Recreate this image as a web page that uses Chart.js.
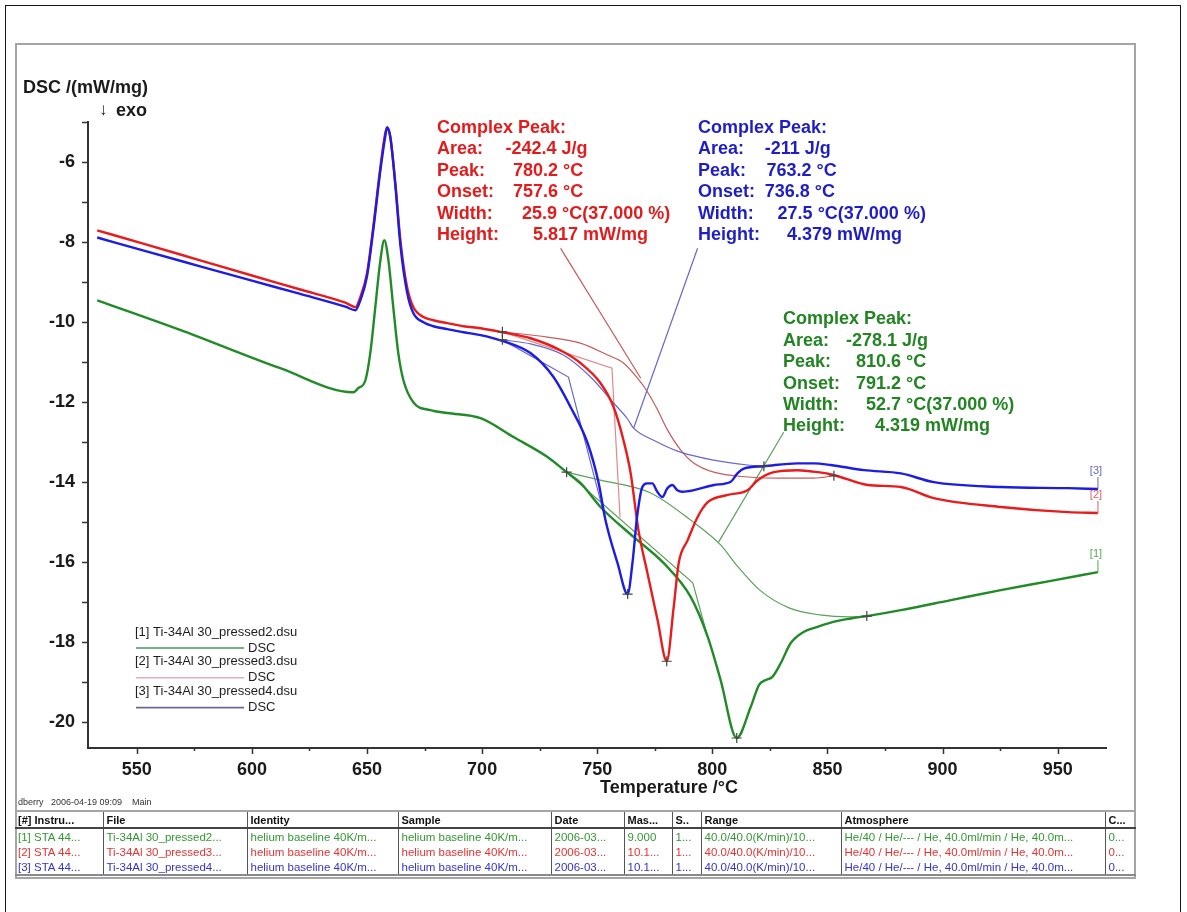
<!DOCTYPE html>
<html>
<head>
<meta charset="utf-8">
<script src="https://cdn.jsdelivr.net/npm/chart.js@4.4.1/dist/chart.umd.min.js"></script>
<style>
  html, body { margin: 0; padding: 0; background: #fff; }
  #wrap { position: relative; width: 1187px; height: 912px; overflow: hidden; background: #fff; }
  #outer { position: absolute; left: 5px; top: 5px; width: 1176px; height: 1000px; border: 1.5px solid #151515; box-sizing: border-box; }
  #inner { position: absolute; left: 15px; top: 43px; width: 1121px; height: 836px; border: 2px solid #a5a5a5; box-sizing: border-box; }
  #plot { position: absolute; left: 0; top: 0; }
  #stamp { position: absolute; left: 18px; top: 797px; font: 9px "Liberation Sans", Arial, sans-serif; color: #333; white-space: pre; }
  #meta { position: absolute; left: 15px; top: 810px; width: 1121px; border-collapse: collapse; table-layout: fixed;
          font-family: "Liberation Sans", Arial, sans-serif; border-top: 2px solid #a5a5a5; border-bottom: 2px solid #8a8a8a; }
  #meta th { font-size: 11px; font-weight: bold; text-align: left; height: 15px; padding: 0 3px; color: #111;
             border-left: 1.5px solid #555; border-bottom: 2.5px solid #444; white-space: nowrap; overflow: hidden; }
  #meta td { font-size: 11.5px; height: 15px; padding: 0 3px; border-left: 1.5px solid #555; white-space: nowrap; overflow: hidden; }
  #meta th:first-child, #meta td:first-child { border-left: none; }
</style>
</head>
<body>
<div id="wrap">
  <div id="outer"></div>
  <div id="inner"></div>
  <canvas id="plot" width="1187" height="912"></canvas>
  <div id="stamp">dberry   2006-04-19 09:09    Main</div>
  <table id="meta"></table>
</div>
<script>
// ---- DSC traces (temperature in °C, DSC in mW/mg) ----
const tempRed = [532.8, 555, 577.5, 600, 621, 640.6, 645, 647.1, 650, 652.7, 655.8, 658, 658.7, 660.1, 662.3, 664.5, 667.4, 670.1, 674.5, 678.8, 684.9, 691.9, 699.3, 708.8, 721, 734, 742.7, 751.4, 757.1, 761.4, 764.5, 767.9, 771.8, 776.2, 780.2, 783.2, 785.4, 789.3, 793.6, 798, 806.7, 815.3, 819.7, 826.7, 837.1, 845.8, 852.7, 867.5, 881.9, 896.2, 925.3, 954.5, 967.5];
const dscRed = [-7.71, -8.08, -8.46, -8.84, -9.19, -9.52, -9.63, -9.38, -8.78, -7.63, -6.13, -5.26, -5.17, -5.38, -6.53, -7.96, -9.13, -9.63, -9.88, -9.96, -10.03, -10.11, -10.16, -10.26, -10.41, -10.71, -11.03, -11.53, -12.13, -12.96, -13.78, -15.21, -16.28, -17.46, -18.49, -17.14, -16.03, -15.46, -14.88, -14.51, -14.33, -14.21, -13.96, -13.76, -13.71, -13.76, -13.83, -14.08, -14.13, -14.41, -14.63, -14.76, -14.78];

const tempBlue = [532.8, 555, 577.5, 600, 621, 640.6, 645, 647.1, 650, 652.7, 655.8, 658, 658.7, 660.1, 662.3, 664.5, 667.4, 670.1, 674.5, 678.8, 684.9, 691.9, 699.3, 708, 721, 731, 738.4, 745.8, 750.5, 753.6, 758.8, 763.2, 765.3, 767.3, 769.6, 771.7, 773.9, 776.1, 778.3, 780.4, 782.6, 784.8, 787, 792, 800.7, 808, 810.9, 813.7, 822.4, 837, 844.2, 851.4, 865.9, 881.9, 896.2, 925.3, 954.5, 967.5];
const dscBlue = [-7.89, -8.25, -8.61, -8.97, -9.30, -9.62, -9.71, -9.46, -8.86, -7.71, -6.21, -5.33, -5.13, -5.36, -6.58, -8.08, -9.26, -9.78, -10.01, -10.11, -10.18, -10.26, -10.33, -10.46, -10.78, -11.38, -12.13, -13.03, -14.0, -14.96, -16.03, -16.81, -16.03, -14.88, -14.13, -14.04, -14.04, -14.25, -14.38, -14.17, -14.08, -14.21, -14.25, -14.21, -14.08, -14.0, -13.79, -13.67, -13.61, -13.54, -13.54, -13.58, -13.71, -13.79, -14.01, -14.13, -14.16, -14.18];

const tempGreen = [532.8, 568.8, 612.3, 644.1, 646.2, 649.3, 651.4, 653.6, 655.8, 657.5, 659.3, 661.4, 663.6, 665.8, 670.1, 677.5, 684.9, 699.3, 713.6, 728.4, 736.7, 742.7, 751.4, 765.8, 778.8, 790.6, 798, 803.6, 810.6, 816.7, 820.3, 823.2, 826.1, 829.7, 834, 839.8, 845.7, 852.9, 860.1, 867.1, 881.9, 903.6, 925.3, 947.1, 967.5];
const dscGreen = [-9.46, -10.2, -11.16, -11.76, -11.66, -11.46, -10.79, -9.63, -8.46, -7.96, -8.46, -9.63, -10.79, -11.46, -12.01, -12.21, -12.28, -12.41, -12.88, -13.38, -13.76, -14.03, -14.63, -15.38, -16.03, -16.88, -17.88, -18.96, -20.41, -19.63, -19.08, -18.96, -18.88, -18.54, -18.04, -17.75, -17.63, -17.5, -17.42, -17.36, -17.21, -16.96, -16.71, -16.48, -16.26];

// ---- peak evaluation constructions ----
const blueBaseT = [708.8, 721, 735.3, 747.1, 757.1, 763.2, 765.8, 774.5, 786.2, 800.6, 815.4, 822.4];
const blueBaseV = [-10.45, -10.55, -10.83, -11.38, -12.03, -12.43, -12.66, -12.96, -13.26, -13.46, -13.58, -13.61];
const blueTanT = [708.8, 737.5, 753.6];
const blueTanV = [-10.45, -11.38, -14.96];

const redBaseT = [708.8, 728.4, 742.7, 754.5, 761.4, 767.5, 771.9, 776.2, 780.2, 786.2, 791.9, 800.6, 815.4, 829.7, 844.1, 852.8];
const redBaseV = [-10.25, -10.38, -10.53, -10.83, -11.03, -11.41, -11.76, -12.2, -12.67, -13.2, -13.53, -13.76, -13.88, -13.91, -13.91, -13.85];
const redTanT = [708.8, 756.4, 759.9];
const redTanV = [-10.25, -11.16, -14.89];

const greenBaseT = [736.7, 751.4, 773.2, 790.6, 803.6, 810.6, 820.6, 833.6, 846.7, 859.7, 867.1];
const greenBaseV = [-13.76, -13.96, -14.28, -14.96, -15.58, -16.09, -16.71, -17.16, -17.33, -17.38, -17.36];
const greenTanT = [736.7, 791.5, 798];
const greenTanV = [-13.76, -16.53, -17.88];

// leader lines from the result boxes to the baselines
const redLeadT = [734.1, 768.9];   const redLeadV = [-8.16, -11.41];
const blueLeadT = [793.6, 765.8];  const blueLeadV = [-8.16, -12.66];
const greenLeadT = [831, 802.7];   const greenLeadV = [-12.76, -15.51];

// limit / peak markers
const markT = [708.8, 708.8, 822.4, 852.8, 736.7, 867.1, 763.2, 780.2, 810.6];
const markV = [-10.25, -10.45, -13.61, -13.85, -13.76, -17.36, -16.81, -18.49, -20.41];

// ---- texts ----
const resultRows = ['Area:', 'Peak:', 'Onset:', 'Width:', 'Height:'];
const redResult = ['-242.4 J/g', '780.2 °C', '757.6 °C', '25.9 °C(37.000 %)', '5.817 mW/mg'];
const blueResult = ['-211 J/g', '763.2 °C', '736.8 °C', '27.5 °C(37.000 %)', '4.379 mW/mg'];
const greenResult = ['-278.1 J/g', '810.6 °C', '791.2 °C', '52.7 °C(37.000 %)', '4.319 mW/mg'];
const legendFiles = ['[1] Ti-34Al 30_pressed2.dsu', '[2] Ti-34Al 30_pressed3.dsu', '[3] Ti-34Al 30_pressed4.dsu'];

const tableHeaders = ['[#] Instru...', 'File', 'Identity', 'Sample', 'Date', 'Mas...', 'S..', 'Range', 'Atmosphere', 'C...'];
const tableRows = [
  ['[1] STA 44...', 'Ti-34Al 30_pressed2...', 'helium baseline 40K/m...', 'helium baseline 40K/m...', '2006-03...', '9.000', '1...', '40.0/40.0(K/min)/10...', 'He/40 / He/--- / He, 40.0ml/min / He, 40.0m...', '0...'],
  ['[2] STA 44...', 'Ti-34Al 30_pressed3...', 'helium baseline 40K/m...', 'helium baseline 40K/m...', '2006-03...', '10.1...', '1...', '40.0/40.0(K/min)/10...', 'He/40 / He/--- / He, 40.0ml/min / He, 40.0m...', '0...'],
  ['[3] STA 44...', 'Ti-34Al 30_pressed4...', 'helium baseline 40K/m...', 'helium baseline 40K/m...', '2006-03...', '10.1...', '1...', '40.0/40.0(K/min)/10...', 'He/40 / He/--- / He, 40.0ml/min / He, 40.0m...', '0...']
];

// ---- styling ----
const C = {
  red: 'rgb(232,28,28)', blue: 'rgb(28,28,226)', green: 'rgb(34,138,40)',
  redThin: 'rgb(196,92,92)', redTan: 'rgb(222,140,140)', blueThin: 'rgb(104,104,204)', greenThin: 'rgb(92,160,92)',
  redText: 'rgb(226,28,28)', blueText: 'rgb(30,30,196)', greenText: 'rgb(34,132,34)'
};
const FONT = '"Liberation Sans", Arial, "DejaVu Sans", sans-serif';
const colWidths = [88, 144, 151, 153, 73, 48, 29, 140, 264, 31];
const rowColors = ['rgb(52,150,52)', 'rgb(226,52,52)', 'rgb(52,52,200)'];

// build the file table
(function buildTable() {
  const t = document.getElementById('meta');
  let html = '<colgroup>' + colWidths.map(w => '<col style="width:' + w + 'px">').join('') + '</colgroup>';
  html += '<thead><tr>' + tableHeaders.map(h => '<th>' + h + '</th>').join('') + '</tr></thead><tbody>';
  tableRows.forEach((r, i) => {
    html += '<tr style="color:' + rowColors[i] + '">' + r.map(c => '<td>' + c + '</td>').join('') + '</tr>';
  });
  t.innerHTML = html + '</tbody>';
})();

const pts = (xs, ys) => xs.map((x, i) => ({ x: x, y: ys[i] }));
const thick = (label, xs, ys, color) => ({ label, data: pts(xs, ys), borderColor: color, borderWidth: 2.4, pointRadius: 0, cubicInterpolationMode: 'monotone', fill: false });
const thin = (label, xs, ys, color, smooth) => ({ label, data: pts(xs, ys), borderColor: color, borderWidth: 1.2, pointRadius: 0, tension: 0, cubicInterpolationMode: smooth ? 'monotone' : 'default', fill: false });

const decor = {
  id: 'dscDecor',
  afterDraw(chart) {
    const ctx = chart.ctx, xs = chart.scales.x, ys = chart.scales.y, a = chart.chartArea;
    ctx.save();
    // tick marks: long at labelled values, short in between
    ctx.strokeStyle = '#333'; ctx.lineWidth = 1.5;
    xs.ticks.forEach(t => {
      const px = Math.round(xs.getPixelForValue(t.value)) + 0.5;
      const len = t.value % 50 === 0 ? 6 : 3;
      ctx.beginPath(); ctx.moveTo(px, a.bottom); ctx.lineTo(px, a.bottom + len); ctx.stroke();
    });
    ys.ticks.forEach(t => {
      const py = Math.round(ys.getPixelForValue(t.value)) + 0.5;
      ctx.beginPath(); ctx.moveTo(a.left - 6, py); ctx.lineTo(a.left, py); ctx.stroke();
    });

    // axis titles
    ctx.fillStyle = '#1a1a1a'; ctx.textBaseline = 'middle'; ctx.textAlign = 'left';
    ctx.font = 'bold 18px ' + FONT;
    ctx.fillText('DSC /(mW/mg)', 23, 88);
    ctx.fillText('Temperature /°C', 600, 788);
    ctx.font = '17px ' + FONT;
    ctx.fillText('↓', 99, 110);
    ctx.font = 'bold 18px ' + FONT;
    ctx.fillText('exo', 116, 111);

    // result boxes
    const boxes = [
      { vals: redResult, color: C.redText, x: 437, y: 128, off: [68.5, 76, 76, 85, 96] },
      { vals: blueResult, color: C.blueText, x: 698, y: 128, off: [66.7, 68.5, 66.7, 79.6, 89] },
      { vals: greenResult, color: C.greenText, x: 783, y: 319.5, off: [63, 73, 73, 83, 92] }
    ];
    ctx.font = 'bold 18px ' + FONT;
    boxes.forEach(b => {
      ctx.fillStyle = b.color;
      ctx.fillText('Complex Peak:', b.x, b.y);
      resultRows.forEach((r, i) => {
        const yy = b.y + 21.4 * (i + 1);
        ctx.fillText(r, b.x, yy);
        ctx.fillText(b.vals[i], b.x + b.off[i], yy);
      });
    });

    // legend block
    const legColors = ['rgb(70,150,95)', 'rgb(226,172,196)', 'rgb(112,102,150)'];
    ctx.font = '13px ' + FONT;
    legendFiles.forEach((f, i) => {
      const y0 = 632 + 29.8 * i;
      ctx.fillStyle = '#1e1e1e';
      ctx.fillText(f, 135, y0);
      ctx.strokeStyle = legColors[i]; ctx.lineWidth = 1.6;
      ctx.beginPath(); ctx.moveTo(136, y0 + 16); ctx.lineTo(244, y0 + 16); ctx.stroke();
      ctx.fillStyle = '#1e1e1e';
      ctx.fillText('DSC', 248, y0 + 16);
    });

    // curve end tags
    const ends = [
      { t: tempGreen, v: dscGreen, tag: '[1]', color: 'rgb(90,165,90)', lift: 18 },
      { t: tempRed, v: dscRed, tag: '[2]', color: 'rgb(222,96,96)', lift: 18 },
      { t: tempBlue, v: dscBlue, tag: '[3]', color: 'rgb(100,100,190)', lift: 18 }
    ];
    ctx.font = '11px ' + FONT; ctx.textAlign = 'center';
    ends.forEach(e => {
      const px = xs.getPixelForValue(e.t[e.t.length - 1]);
      const py = ys.getPixelForValue(e.v[e.v.length - 1]);
      ctx.strokeStyle = e.color; ctx.lineWidth = 1;
      ctx.beginPath(); ctx.moveTo(px, py); ctx.lineTo(px, py - e.lift + 6); ctx.stroke();
      ctx.fillStyle = e.color;
      ctx.fillText(e.tag, px - 2, py - e.lift);
    });
    ctx.restore();
  }
};

new Chart(document.getElementById('plot'), {
  type: 'line',
  data: {
    datasets: [
      { type: 'scatter', label: 'limits', data: pts(markT, markV), pointStyle: 'cross', pointRadius: 5, pointBorderWidth: 1.2, borderColor: '#444', backgroundColor: '#444', showLine: false },
      thick('[3] Ti-34Al 30_pressed4', tempBlue, dscBlue, C.blue),
      thick('[2] Ti-34Al 30_pressed3', tempRed, dscRed, C.red),
      thick('[1] Ti-34Al 30_pressed2', tempGreen, dscGreen, C.green),
      thin('blue baseline', blueBaseT, blueBaseV, C.blueThin, true),
      thin('blue tangent', blueTanT, blueTanV, C.blueThin, false),
      thin('red baseline', redBaseT, redBaseV, C.redThin, true),
      thin('red tangent', redTanT, redTanV, C.redTan, false),
      thin('green baseline', greenBaseT, greenBaseV, C.greenThin, true),
      thin('green tangent', greenTanT, greenTanV, C.greenThin, false),
      thin('red leader', redLeadT, redLeadV, C.redThin, false),
      thin('blue leader', blueLeadT, blueLeadV, C.blueThin, false),
      thin('green leader', greenLeadT, greenLeadV, C.greenThin, false)
    ]
  },
  options: {
    responsive: false,
    animation: false,
    devicePixelRatio: 1,
    layout: { padding: { left: 18, top: 122, right: 81, bottom: 124 } },
    plugins: { legend: { display: false }, tooltip: { enabled: false } },
    scales: {
      x: {
        type: 'linear', min: 528.8, max: 971,
        grid: { display: false, drawTicks: false },
        border: { display: true, color: '#333', width: 2 },
        ticks: { stepSize: 25, includeBounds: false, autoSkip: false, maxRotation: 0, padding: 11,
                 color: '#1a1a1a', font: { family: FONT, size: 18, weight: 'bold' },
                 callback: v => (v % 50 === 0 ? String(v) : '') },
        afterFit: s => { s.height = 40; }
      },
      y: {
        type: 'linear', min: -20.66, max: -5,
        grid: { display: false, drawTicks: false },
        border: { display: true, color: '#333', width: 2 },
        ticks: { stepSize: 1, includeBounds: false, autoSkip: false, padding: 13,
                 color: '#1a1a1a', font: { family: FONT, size: 18, weight: 'bold' },
                 callback: v => (v % 2 === 0 ? String(v) : '') },
        afterFit: s => { s.width = 70; }
      }
    }
  },
  plugins: [decor]
});
</script>
</body>
</html>
